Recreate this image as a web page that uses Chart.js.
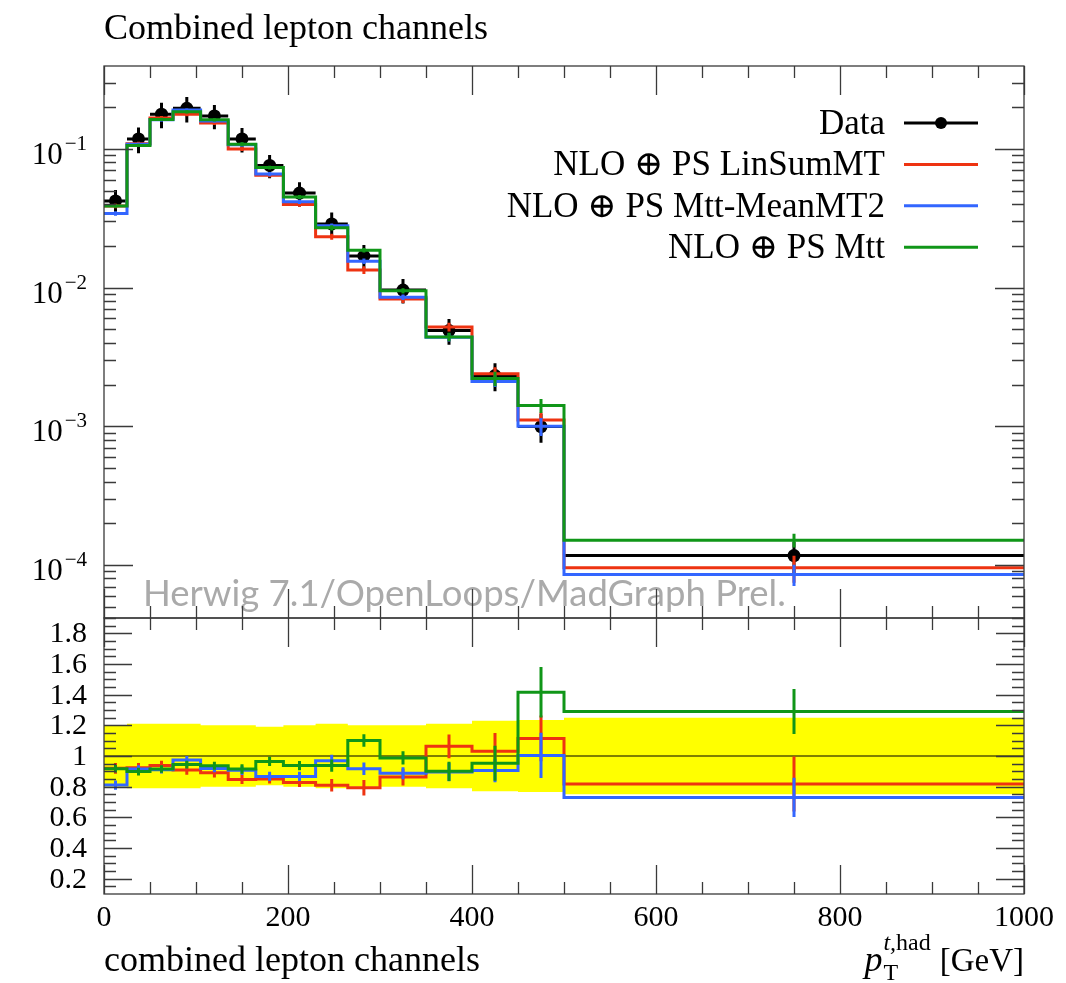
<!DOCTYPE html>
<html>
<head>
<meta charset="utf-8">
<title>Hadronic top pT, combined lepton channels</title>
<script src="https://cdn.jsdelivr.net/npm/chart.js@4.4.1/dist/chart.umd.min.js"></script>
<style>
    body { margin: 0; background: #fff; }
    #wrap { position: relative; width: 1066px; height: 983px; }
    #wrap canvas { position: absolute; left: 0; top: 0; }
</style>
</head>
<body>
<div id="wrap">
    <canvas id="mainChart" width="1066" height="983"></canvas>
    <canvas id="ratioChart" width="1066" height="983"></canvas>
</div>
<script>
// Hadronic top pT spectrum (1/sigma dsigma/dpT), data vs three NLO+PS scale choices

const binEdges = [0, 25, 50, 75, 105, 135, 165, 195, 230, 265, 300, 350, 400, 450, 500, 1000];

const dataValues = [0.0422, 0.118, 0.178, 0.196, 0.173, 0.118, 0.076, 0.048, 0.0288, 0.0169, 0.0096, 0.0049, 0.00232, 0.000996, 0.000117];
const dataRelErr = [0.20, 0.21, 0.21, 0.21, 0.20, 0.20, 0.19, 0.20, 0.21, 0.20, 0.20, 0.21, 0.23, 0.235, 0.25];

const linSumValues = [0.0388, 0.109, 0.167, 0.178, 0.154, 0.100, 0.0646, 0.0397, 0.0233, 0.0134, 0.00828, 0.00521, 0.00239, 0.00111, 0.0000956];
const linSumRelErr = [0.038, 0.033, 0.032, 0.033, 0.034, 0.035, 0.035, 0.036, 0.05, 0.063, 0.063, 0.073, 0.117, 0.134, 0.22];

const meanMT2Values = [0.0342, 0.108, 0.162, 0.191, 0.159, 0.107, 0.0659, 0.0416, 0.0279, 0.0155, 0.00852, 0.00439, 0.00210, 0.00100, 0.0000854];
const meanMT2RelErr = [0.037, 0.027, 0.027, 0.026, 0.027, 0.033, 0.035, 0.035, 0.041, 0.044, 0.045, 0.067, 0.084, 0.147, 0.175];

const mttValues = [0.0387, 0.106, 0.163, 0.185, 0.162, 0.108, 0.0733, 0.0450, 0.0270, 0.0186, 0.00948, 0.00441, 0.00221, 0.00141, 0.000151];
const mttRelErr = [0.027, 0.028, 0.027, 0.027, 0.027, 0.033, 0.031, 0.032, 0.043, 0.037, 0.044, 0.07, 0.12, 0.116, 0.114];

const seriesLabels = ['Data', 'NLO \u2295 PS LinSumMT', 'NLO \u2295 PS Mtt-MeanMT2', 'NLO \u2295 PS Mtt'];
const seriesColors = ['#000000', '#EE3311', '#3366FF', '#109618'];

const xTickLabels = [0, 200, 400, 600, 800, 1000];
const logTickLabels = [1e-1, 1e-2, 1e-3, 1e-4];
const ratioTickLabels = [0.2, 0.4, 0.6, 0.8, 1, 1.2, 1.4, 1.6, 1.8];

const SERIF = '"Liberation Serif", "DejaVu Serif", serif';
const FRAME = '#3a3a3a';

// helpers
const binCenters = binEdges.slice(0, -1).map((e, i) => (e + binEdges[i + 1]) / 2);

function stepPoints(values) {
    return binEdges.map((e, i) => ({ x: e, y: values[Math.min(i, values.length - 1)] }));
}

function ratioOf(values) {
    return values.map((v, i) => v / dataValues[i]);
}

function histDataset(label, values, relErr, color, order) {
    return {
        label: label,
        data: stepPoints(values),
        stepped: true,
        borderColor: color,
        borderWidth: 3,
        pointRadius: 0,
        fill: false,
        order: order,
        barValues: values,
        barErr: relErr,
        barColor: color
    };
}

function drawErrorBars(chart, ds) {
    if (!ds.barValues) return;
    const ctx = chart.ctx;
    const xs = chart.scales.x;
    const ys = chart.scales.y;
    ctx.save();
    ctx.strokeStyle = ds.barColor;
    ctx.lineWidth = 3;
    ctx.beginPath();
    ds.barValues.forEach((v, i) => {
        const e = ds.barErr[i];
        const cx = xs.getPixelForValue(binCenters[i]);
        ctx.moveTo(cx, ys.getPixelForValue(v * (1 + e)));
        ctx.lineTo(cx, ys.getPixelForValue(v * (1 - e)));
        if (ds.xBars) {
            const py = ys.getPixelForValue(v);
            ctx.moveTo(xs.getPixelForValue(binEdges[i]), py);
            ctx.lineTo(xs.getPixelForValue(binEdges[i + 1]), py);
        }
    });
    ctx.stroke();
    ctx.restore();
}

// frame with inward ticks on all four sides
function drawFrame(chart, yTicks) {
    const ctx = chart.ctx;
    const a = chart.chartArea;
    const xs = chart.scales.x;
    const ys = chart.scales.y;
    ctx.save();
    ctx.strokeStyle = FRAME;
    ctx.lineWidth = 1.3;
    ctx.beginPath();
    for (let v = 0; v <= 1000; v += 50) {
        const px = Math.round(xs.getPixelForValue(v)) + 0.5;
        const len = v % 200 === 0 ? 29 : 12;
        ctx.moveTo(px, a.top); ctx.lineTo(px, a.top + len);
        ctx.moveTo(px, a.bottom); ctx.lineTo(px, a.bottom - len);
    }
    yTicks.forEach(t => {
        const py = Math.round(ys.getPixelForValue(t.v)) + 0.5;
        if (py < a.top || py > a.bottom) return;
        ctx.moveTo(a.left, py); ctx.lineTo(a.left + t.len, py);
        ctx.moveTo(a.right, py); ctx.lineTo(a.right - t.len, py);
    });
    ctx.stroke();
    ctx.strokeRect(a.left, a.top, a.right - a.left, a.bottom - a.top);
    ctx.restore();
}

const mainDecor = {
    id: 'mainDecor',
    afterDatasetDraw(chart, args) {
        drawErrorBars(chart, chart.data.datasets[args.index]);
    },
    afterDraw(chart) {
        const ctx = chart.ctx;
        const a = chart.chartArea;
        const ys = chart.scales.y;

        ctx.save();
        ctx.fillStyle = '#000';
        ctx.textBaseline = 'alphabetic';

        // title
        ctx.font = '36px ' + SERIF;
        ctx.textAlign = 'left';
        ctx.fillText('Combined lepton channels', a.left, 39);

        // generator tag
        const tag = 'Herwig 7.1/OpenLoops/MadGraph Prel.';
        ctx.font = '36px Lato, "Open Sans", sans-serif';
        const fit = 36 * 643 / ctx.measureText(tag).width;
        ctx.font = fit.toFixed(1) + 'px Lato, "Open Sans", sans-serif';
        ctx.fillStyle = '#aaaaaa';
        ctx.fillText(tag, 143, 606);

        // legend
        ctx.font = '35px ' + SERIF;
        ctx.textAlign = 'right';
        seriesLabels.forEach((lab, i) => {
            const ly = 123 + i * 41.4;
            ctx.fillStyle = '#000';
            ctx.fillText(lab, 885, ly + 11);
            ctx.strokeStyle = seriesColors[i];
            ctx.lineWidth = 3;
            ctx.beginPath();
            ctx.moveTo(904, ly);
            ctx.lineTo(978, ly);
            ctx.stroke();
            if (i === 0) {
                ctx.beginPath();
                ctx.arc(941, ly, 6, 0, Math.PI * 2);
                ctx.fill();
            }
        });

        // log axis ticks and labels
        const ticks = [];
        for (let d = -5; d <= 0; d++) {
            for (let m = 1; m <= 9; m++) {
                ticks.push({ v: m * Math.pow(10, d), len: m === 1 ? 29 : 12 });
            }
        }
        drawFrame(chart, ticks);

        ctx.fillStyle = '#000';
        logTickLabels.forEach(v => {
            const py = ys.getPixelForValue(v);
            const exp = '\u2212' + Math.round(-Math.log10(v));
            ctx.font = '21px ' + SERIF;
            const ew = ctx.measureText(exp).width;
            ctx.textAlign = 'left';
            ctx.fillText(exp, 87 - ew, py + 1);
            ctx.font = '31px ' + SERIF;
            ctx.textAlign = 'right';
            ctx.fillText('10', 87 - ew - 2, py + 15);
        });
        ctx.restore();
    }
};

const ratioDecor = {
    id: 'ratioDecor',
    afterDatasetDraw(chart, args) {
        drawErrorBars(chart, chart.data.datasets[args.index]);
    },
    afterDraw(chart) {
        const ctx = chart.ctx;
        const a = chart.chartArea;
        const xs = chart.scales.x;
        const ys = chart.scales.y;

        const ticks = [];
        for (let k = 1; k <= 38; k++) {
            ticks.push({ v: k * 0.05, len: k % 4 === 0 ? 28 : 12 });
        }
        drawFrame(chart, ticks);

        ctx.save();
        ctx.fillStyle = '#000';
        ctx.font = '30px ' + SERIF;

        ctx.textAlign = 'right';
        ctx.textBaseline = 'middle';
        ratioTickLabels.forEach(v => {
            ctx.fillText(v === 1 ? '1' : v.toFixed(1), 87, ys.getPixelForValue(v) + 1);
        });

        ctx.textAlign = 'center';
        ctx.textBaseline = 'alphabetic';
        xTickLabels.forEach(v => {
            ctx.fillText(String(v), xs.getPixelForValue(v), 926);
        });

        // lower-left note and axis title
        ctx.textAlign = 'left';
        ctx.font = '36px ' + SERIF;
        ctx.fillText('combined lepton channels', a.left, 971);

        ctx.textAlign = 'right';
        ctx.font = '33px ' + SERIF;
        let x = a.right;
        ctx.fillText('[GeV]', x, 971);
        x -= ctx.measureText('[GeV]').width + 9;
        ctx.font = '24px ' + SERIF;
        const hadW = ctx.measureText('had').width;
        ctx.font = 'italic 24px ' + SERIF;
        const tW = ctx.measureText('t,').width;
        ctx.font = '24px ' + SERIF;
        ctx.fillText('had', x, 950);
        ctx.font = 'italic 24px ' + SERIF;
        ctx.fillText('t,', x - hadW, 950);
        const supStart = x - hadW - tW;
        ctx.textAlign = 'left';
        ctx.font = '24px ' + SERIF;
        ctx.fillText('T', supStart, 980);
        ctx.textAlign = 'right';
        ctx.font = 'italic 36px ' + SERIF;
        ctx.fillText('p', supStart - 1, 971);
        ctx.restore();
    }
};

const baseOptions = (padding, yScale) => ({
    responsive: false,
    animation: false,
    events: [],
    layout: { padding: padding },
    scales: {
        x: { type: 'linear', min: 0, max: 1000, bounds: 'data', display: false },
        y: yScale
    },
    plugins: {
        legend: { display: false },
        tooltip: { enabled: false }
    }
});

// main panel
const dataDs = {
    label: seriesLabels[0],
    data: dataValues.map((v, i) => ({ x: binCenters[i], y: v })),
    showLine: false,
    pointRadius: 6.5,
    pointBorderWidth: 0,
    pointBackgroundColor: '#000',
    order: 4,
    barValues: dataValues,
    barErr: dataRelErr,
    barColor: '#000',
    xBars: true
};

new Chart(document.getElementById('mainChart'), {
    type: 'line',
    data: {
        datasets: [
            dataDs,
            histDataset(seriesLabels[1], linSumValues, linSumRelErr, seriesColors[1], 3),
            histDataset(seriesLabels[2], meanMT2Values, meanMT2RelErr, seriesColors[2], 2),
            histDataset(seriesLabels[3], mttValues, mttRelErr, seriesColors[3], 1)
        ]
    },
    options: baseOptions(
        { left: 104, right: 42, top: 66, bottom: 365 },
        { type: 'logarithmic', min: 4.15e-5, max: 0.396, bounds: 'data', display: false }
    ),
    plugins: [mainDecor]
});

// ratio panel: MC / data with the data uncertainty band
new Chart(document.getElementById('ratioChart'), {
    type: 'line',
    data: {
        datasets: [
            {
                label: 'band up',
                data: stepPoints(dataRelErr.map(e => 1 + e)),
                stepped: true,
                borderWidth: 0,
                pointRadius: 0,
                backgroundColor: '#ffff00',
                fill: '+1',
                order: 7
            },
            {
                label: 'band down',
                data: stepPoints(dataRelErr.map(e => 1 - e)),
                stepped: true,
                borderWidth: 0,
                pointRadius: 0,
                fill: false,
                order: 8
            },
            {
                label: 'unity',
                data: stepPoints(dataValues.map(() => 1)),
                borderColor: '#000',
                borderWidth: 1.2,
                pointRadius: 0,
                fill: false,
                order: 5
            },
            histDataset(seriesLabels[1], ratioOf(linSumValues), linSumRelErr, seriesColors[1], 3),
            histDataset(seriesLabels[2], ratioOf(meanMT2Values), meanMT2RelErr, seriesColors[2], 2),
            histDataset(seriesLabels[3], ratioOf(mttValues), mttRelErr, seriesColors[3], 1)
        ]
    },
    options: baseOptions(
        { left: 104, right: 42, top: 618, bottom: 89 },
        { type: 'linear', min: 0.1, max: 1.9, bounds: 'data', display: false }
    ),
    plugins: [ratioDecor]
});
</script>
</body>
</html>
